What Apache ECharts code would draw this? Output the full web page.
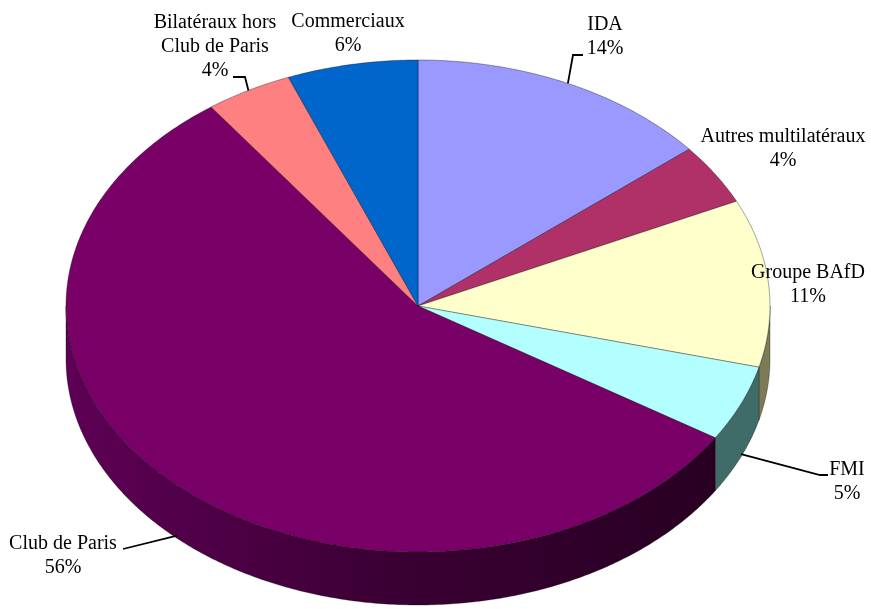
<!DOCTYPE html>
<html><head><meta charset="utf-8">
<script src="https://cdn.jsdelivr.net/npm/echarts@6/dist/echarts.min.js"></script>
<style>html,body{margin:0;padding:0;background:#fff}#c{width:871px;height:609px}</style>
</head><body><div id="c"></div>
<script>
const categories = ['IDA','Autres multilatéraux','Groupe BAfD','FMI','Club de Paris','Bilatéraux hors Club de Paris','Commerciaux'];
const labelNames = ['IDA','Autres multilatéraux','Groupe BAfD','FMI','Club de Paris','Bilatéraux hors\nClub de Paris','Commerciaux'];
const values = [14, 4, 11, 5, 56, 4, 6];
const colors = ['#9999FF','#B03068','#FFFFCC','#B3FFFF','#780066','#FF8080','#0066CC'];
const wallColors = ['#55558F','#641A3A','#7D7A58','#3F6B68','#4A0040','#8F4848','#003A73'];

// layout (not data)
const geom = {cx: 418, cy: 306, rx: 352, ry: 246, depth: 53};
const labelPos = [[605,37],[783,149],[808,285],[847,482],[63,556],[215,47],[348,34]];
const leaderElbows = [[[573,55],[583,55]], null, null, [[820,475],[828,475]], [[123,549]], [[245,77],[233,77]], null];

const total = values.reduce((a,b)=>a+b,0);
const starts = []; let acc = 0;
values.forEach(v => { starts.push(acc); acc += v; });

function pt(t, dy){ return [geom.cx + geom.rx*Math.sin(t), geom.cy - geom.ry*Math.cos(t) + (dy||0)]; }
function arc(t0, t1, dy){
  const pts = []; const n = Math.max(2, Math.ceil((t1-t0)/0.01));
  for (let i=0;i<=n;i++){ pts.push(pt(t0+(t1-t0)*i/n, dy)); }
  return pts;
}

function renderItem(params, api){
  const i = params.dataIndex;
  const v = api.value(1);
  const t0 = starts[i]/total*2*Math.PI;
  const t1 = (starts[i]+v)/total*2*Math.PI;
  const children = [];
  const top = [[geom.cx, geom.cy]].concat(arc(t0,t1,0));
  children.push({type:'polygon', z2: 10, shape:{points: top},
    style:{fill: colors[i], stroke:'rgba(0,0,0,0.5)', lineWidth:0.7}});
  const a = Math.max(t0, Math.PI/2), b = Math.min(t1, 3*Math.PI/2);
  if (b > a){
    const upper = arc(a,b,0); const lower = arc(a,b,geom.depth).reverse();
    let fill = wallColors[i];
    if (i === 4){
      fill = {type:'linear', x:0, y:0, x2:1, y2:0, colorStops:[
        {offset:0, color:'#5E0055'},{offset:0.5, color:'#3A0033'},{offset:1, color:'#280022'}]};
    }
    children.push({type:'polygon', z2: 5, shape:{points: upper.concat(lower)},
      style:{fill: fill, stroke:'rgba(0,0,0,0.5)', lineWidth:0.6}});
  }
  const tm = (t0+t1)/2;
  let anchor = pt(tm, 0);
  if (Math.cos(tm) < -0.05) anchor = pt(tm, geom.depth*0.95);
  if (leaderElbows[i]){
    children.push({type:'polyline', z2: 20, shape:{points:[anchor].concat(leaderElbows[i])},
      style:{stroke:'#000', lineWidth:1.8, fill:null}});
  }
  const pct = Math.round(v/total*100) + '%';
  children.push({type:'text', z2: 30, x: labelPos[i][0], y: labelPos[i][1],
    style:{text: labelNames[i] + '\n' + pct, fill:'#000',
      fontFamily:'Liberation Serif', fontSize:20, lineHeight:24, align:'center', verticalAlign:'middle'}});
  return {type:'group', children: children};
}

const chart = echarts.init(document.getElementById('c'), null, {renderer:'canvas'});
chart.setOption({
  animation:false,
  backgroundColor:'#ffffff',
  series:[{type:'custom', coordinateSystem:'none', renderItem: renderItem,
    data: categories.map((c,k)=>({name:c, value:[k, values[k]]}))}]
});
</script></body></html>
